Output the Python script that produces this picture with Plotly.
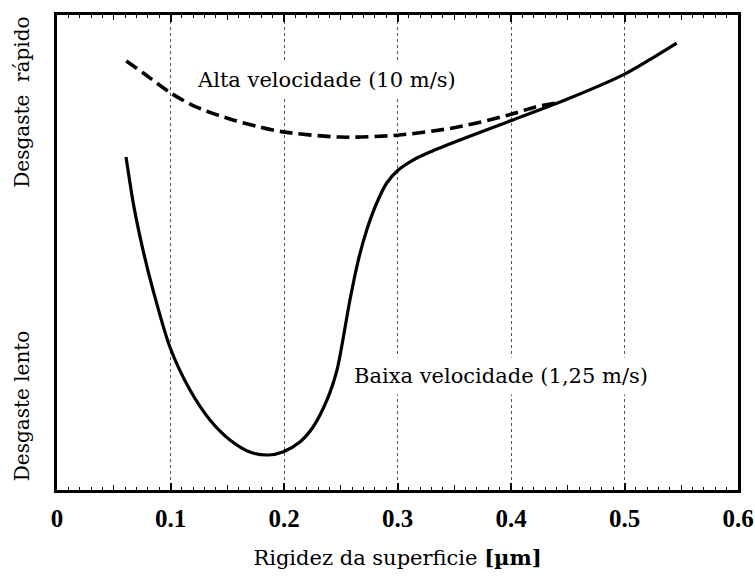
import plotly.graph_objects as go

# Baixa velocidade (1,25 m/s) - solid curve
baixa_x = [0.0608, 0.0678, 0.0758, 0.0846, 0.0996, 0.1172, 0.1348, 0.1524, 0.170, 0.186,
           0.199, 0.214, 0.2256, 0.2379, 0.2467, 0.2508, 0.2581, 0.2655, 0.2729, 0.2817,
           0.2905, 0.3007, 0.3137, 0.3286, 0.355, 0.397, 0.4476, 0.4987, 0.546]
baixa_y = [0.701, 0.596, 0.505, 0.421, 0.300, 0.2105, 0.1474, 0.1053, 0.080, 0.0737,
           0.080, 0.101, 0.1326, 0.1895, 0.2526, 0.3017, 0.400, 0.4842, 0.5474, 0.6042,
           0.6463, 0.6737, 0.6947, 0.7116, 0.737, 0.775, 0.821, 0.874, 0.941]

# Alta velocidade (10 m/s) - dashed curve
alta_x = [0.061, 0.076, 0.100, 0.123, 0.155, 0.179, 0.199, 0.249, 0.300, 0.353,
          0.397, 0.421, 0.440]
alta_y = [0.903, 0.878, 0.836, 0.806, 0.779, 0.764, 0.754, 0.743, 0.747, 0.764,
          0.789, 0.806, 0.815]

x_ticks = [0, 0.1, 0.2, 0.3, 0.4, 0.5, 0.6]
x_ticktext = ["0", "0.1", "0.2", "0.3", "0.4", "0.5", "0.6"]

label_alta = "Alta velocidade (10 m/s)"
label_baixa = "Baixa velocidade (1,25 m/s)"
y_top_label = "Desgaste  rápido"
y_bottom_label = "Desgaste lento"
x_title = "Rigidez da superficie <b>[µm]</b>"

SERIF = "DejaVu Serif"

fig = go.Figure()
fig.add_trace(go.Scatter(x=alta_x, y=alta_y, mode="lines", xaxis="x2",
                         line=dict(color="black", width=3.6, dash="13px,6px",
                                   shape="spline", smoothing=0.8),
                         showlegend=False, hoverinfo="skip"))
fig.add_trace(go.Scatter(x=baixa_x, y=baixa_y, mode="lines",
                         line=dict(color="black", width=3.2, shape="spline", smoothing=0.8),
                         showlegend=False, hoverinfo="skip"))

fig.update_layout(
    width=755, height=576,
    margin=dict(l=57, r=17, t=15, b=86),
    paper_bgcolor="white", plot_bgcolor="white",
    font=dict(family=SERIF, color="black"),
    xaxis=dict(
        range=[0, 0.6], tickvals=x_ticks, ticktext=x_ticktext, automargin=False,
        showline=True, linecolor="black", linewidth=2.5, mirror="ticks",
        ticks="inside", ticklen=7, tickwidth=1.5, tickcolor="black",
        tickfont=dict(family="Liberation Serif", size=25, color="black", weight="bold"),
        showgrid=True, gridcolor="#555555", gridwidth=1, griddash="dot",
        minor=dict(dtick=0.01, ticks="inside", ticklen=3, tickwidth=1.2,
                   tickcolor="black", showgrid=False),
        zeroline=False, ticklabelstandoff=4,
        title=dict(text=x_title, font=dict(family=SERIF, size=21), standoff=20),
    ),
    xaxis2=dict(
        range=[0, 0.6], overlaying="x", anchor="y", side="bottom", automargin=False,
        dtick=0.05, ticks="inside", ticklen=5, tickwidth=1.3, tickcolor="black",
        showticklabels=False, showgrid=False, zeroline=False, showline=False,
        mirror="ticks",
    ),
    yaxis=dict(
        range=[0, 1], showline=True, linecolor="black", linewidth=2.5, mirror=True,
        showticklabels=False, ticks="", showgrid=False, zeroline=False, automargin=False,
    ),
    annotations=[
        dict(x=0.237, y=0.863, xref="x", yref="y", text=label_alta, showarrow=False,
             font=dict(family=SERIF, size=21), bgcolor="white", borderpad=6),
        dict(x=0.391, y=0.240, xref="x", yref="y", text=label_baixa, showarrow=False,
             font=dict(family=SERIF, size=21), bgcolor="white", borderpad=6),
        dict(x=-0.051, y=0.816, xref="paper", yref="paper", text=y_top_label,
             xanchor="center", yanchor="middle",
             showarrow=False, textangle=-90, font=dict(family=SERIF, size=20)),
        dict(x=-0.051, y=0.177, xref="paper", yref="paper", text=y_bottom_label,
             xanchor="center", yanchor="middle",
             showarrow=False, textangle=-90, font=dict(family=SERIF, size=20)),
    ],
)

fig.write_html(
    "out.html",
    config={"displayModeBar": False},
    post_script="document.body.style.margin='0';document.body.style.overflow='hidden';",
)
